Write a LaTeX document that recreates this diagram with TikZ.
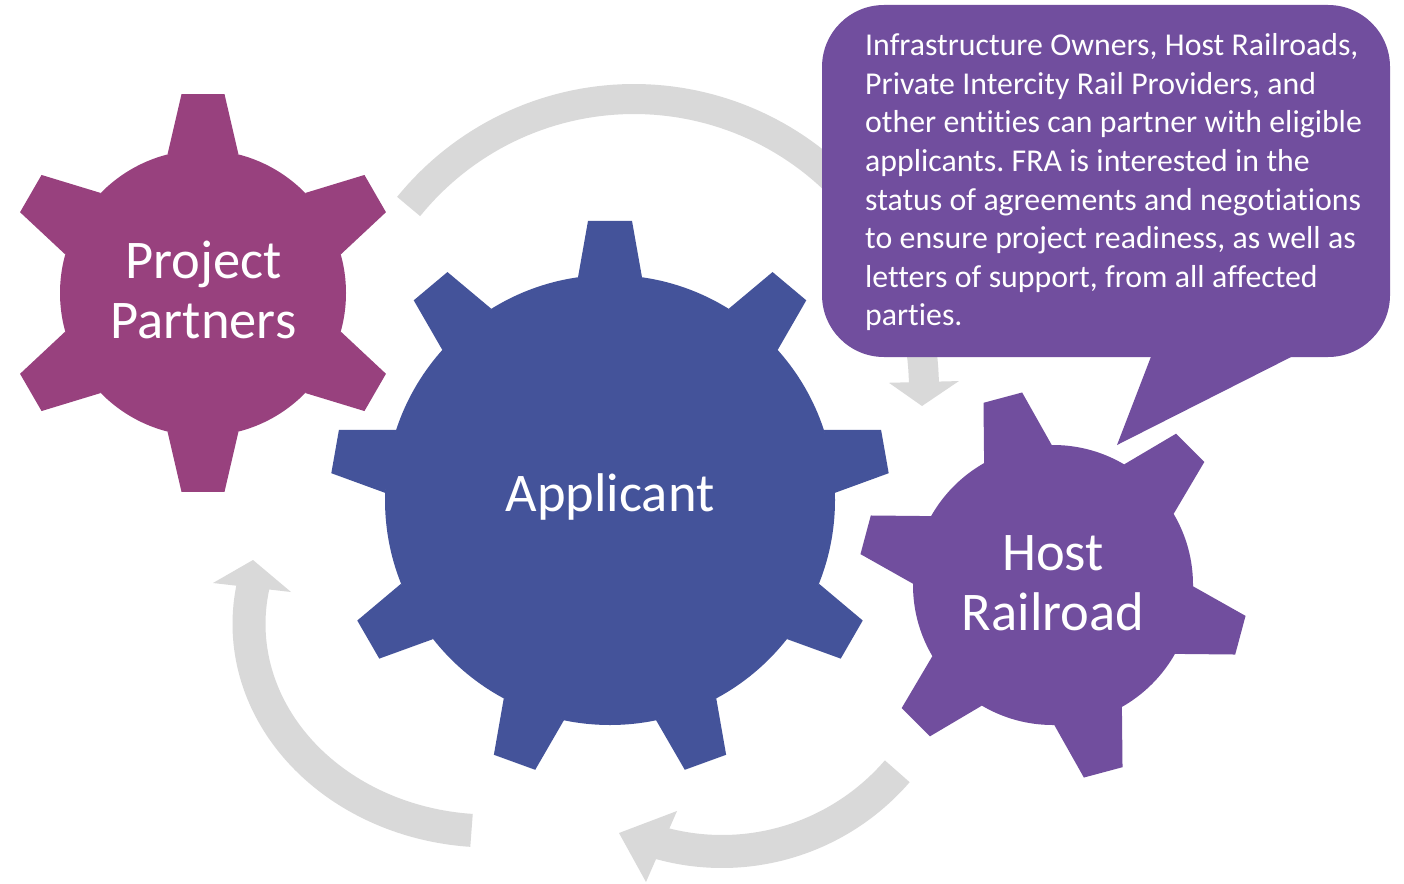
\documentclass[tikz,border=0pt]{standalone}
\usepackage{fontspec}
\setmainfont{Carlito}[Ligatures=NoCommon]
\definecolor{partnerc}{RGB}{152,65,126}
\definecolor{applc}{RGB}{68,83,154}
\definecolor{hostc}{RGB}{113,78,158}
\definecolor{arrowc}{RGB}{217,217,217}
\newcommand\tightspaces{\frenchspacing\spaceskip=7.4pt\relax}
% #1 colour, #2 cx, #3 cy, #4 teeth, #5 first angle, #6 outer r, #7 body r, #8 tip half width, #9 base half width
\newcommand\drawgear[9]{%
  \pgfmathsetmacro\gstep{360/#4}%
  \pgfmathsetmacro\gdt{asin(#8/#6)}%
  \pgfmathsetmacro\gdb{asin(#9/#7)}%
  \pgfmathtruncatemacro\glast{#4-1}%
  \fill[#1] (#2,#3) circle[radius=#7];
  \foreach \k in {0,...,\glast}{%
    \pgfmathsetmacro\ga{#5+\k*\gstep}%
    \fill[#1] ({#2+#7*cos(\ga-\gdb)},{#3+#7*sin(\ga-\gdb)})
      -- ({#2+#6*cos(\ga-\gdt)},{#3+#6*sin(\ga-\gdt)})
      -- ({#2+#6*cos(\ga+\gdt)},{#3+#6*sin(\ga+\gdt)})
      -- ({#2+#7*cos(\ga+\gdb)},{#3+#7*sin(\ga+\gdb)}) -- cycle;
  }%
}
\tikzset{
  gearlabel/.style={text=white, font=\fontsize{54.5}{60}\selectfont, align=center, text width=320, inner sep=0},
  calltext/.style={text=white, font=\fontsize{31.8}{38.5}\selectfont, align=left, text width=560, inner sep=0},
  ringarrow/.style={arrowc, line width=#1, line cap=butt},
  headfill/.style={fill=arrowc}
}
\begin{document}
\begin{tikzpicture}[x=1pt,y=-1pt]
\useasboundingbox (0,0) rectangle (1404,883);
\fill[white] (0,0) rectangle (1404,883);

% circular arrows
\coordinate (topc) at (634,389);
\coordinate (brc) at (722,620);
\coordinate (blc) at (490,624);
\coordinate (toptip) at (922,406);
\coordinate (brtip) at (619,833);
\coordinate (bltip) at (253,560);

\draw[ringarrow=30] plot[domain=-141:-1, samples=90, variable=\t] ({634+290*cos(\t)},{389+290*sin(\t)});
\path[headfill] ({634+255*cos(-1.4)},{389+255*sin(-1.4)}) -- (toptip) -- ({634+325*cos(-1.4)},{389+325*sin(-1.4)}) -- cycle;

\draw[ringarrow=33] plot[domain=40.8:106, samples=60, variable=\t] ({722+231.5*cos(\t)},{620+231.5*sin(\t)});
\path[headfill] (677,811) -- (brtip) -- (646,882) -- cycle;

\draw[ringarrow=33] plot[domain=94.4:191, samples=80, variable=\t] ({490+241*cos(\t)},{624+207*sin(\t)});
\path[headfill] (213,583) -- (bltip) -- (291,592) -- cycle;

% gears
\drawgear{partnerc}{203}{293}{6}{-90}{200}{143}{21.5}{35.5}
\drawgear{applc}{610}{500}{9}{-90}{280}{225}{22}{32}
\drawgear{hostc}{1053}{585}{6}{-105}{195}{140}{20}{35}

\node[gearlabel, anchor=base] (partners) at (203.5,278) {Project\\Partners};
\node[gearlabel, anchor=base] (applicant) at (610,511) {Applicant};
\node[gearlabel, anchor=base] (host) at (1053,570) {Host\\Railroad};

% callout
\fill[hostc, rounded corners=62] (822,5) rectangle (1390,357);
\fill[hostc] (1152,354) -- (1117,445) -- (1297,354) -- cycle;
\node[calltext, anchor=base west] (callout) at (865,56) {\tightspaces Infrastructure Owners, Host Railroads,\\Private Intercity Rail Providers, and\\other entities can partner with eligible\\applicants. FRA is interested in the\\status of agreements and negotiations\\to ensure project readiness, as well as\\letters of support, from all affected\\parties.};
\end{tikzpicture}
\end{document}
